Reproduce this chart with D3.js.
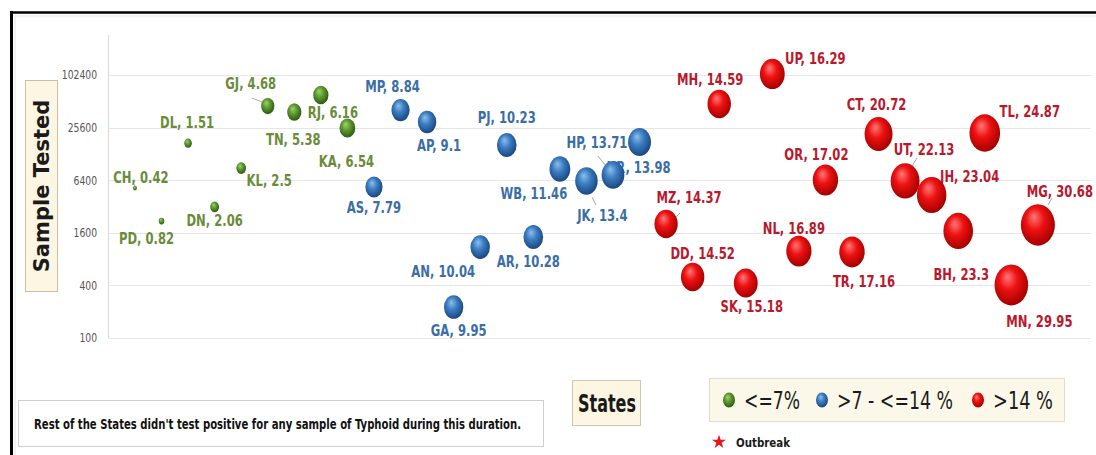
<!DOCTYPE html>
<html>
<head>
<meta charset="utf-8">
<script src="https://cdn.jsdelivr.net/npm/d3@7"></script>
<style>
  html, body { margin: 0; padding: 0; background: #fff; }
  svg { display: block; }
  .narrow { font-family: "Liberation Sans Narrow", "DejaVu Sans Condensed", "Arial Narrow", sans-serif; }
</style>
</head>
<body>
<svg id="chart" width="1096" height="455"></svg>
<script>
// States ordered by test positivity (%), x position = rank
const states = ["CH","PD","DL","DN","KL","GJ","TN","RJ","KA","AS","MP","AP","GA","AN","PJ","AR","WB","JK","HP","HR","MZ","DD","MH","SK","UP","NL","OR","TR","CT","UT","JH","BH","TL","MN","MG"];
const positivity = [0.42,0.82,1.51,2.06,2.5,4.68,5.38,6.16,6.54,7.79,8.84,9.1,9.95,10.04,10.23,10.28,11.46,13.4,13.71,13.98,14.37,14.52,14.59,15.18,16.29,16.89,17.02,17.16,20.72,22.13,23.04,23.3,24.87,29.95,30.68];
const samplesTested = [5200,2180,17000,3160,8800,45200,38600,60400,25300,5350,40700,29700,226,1100,16200,1430,8600,6270,7350,17500,2020,500,47700,426,105200,990,6430,967,21600,6270,4340,1680,22200,405,1970];

const yTicks = [100,400,1600,6400,25600,102400];
const legendLabels = ["<=7%", ">7 - <=14 %", ">14 %"];
const groupColors = [
  {hi:"#9fd36a", mid:"#5f9a32", lo:"#2c5610", text:"#6a8c3a"},
  {hi:"#8cc0ec", mid:"#3c7dc2", lo:"#17457c", text:"#3a6ea5"},
  {hi:"#ff7a7a", mid:"#ee1111", lo:"#a00000", text:"#b8192c"}
];
const groupOf = p => p <= 7 ? 0 : (p <= 14 ? 1 : 2);

// label placement around each bubble (text centre relative to bubble centre) and leader lines
const labelOffset = {
  CH:[6,-10], PD:[-15,18], DL:[-1,-20], DN:[0,14], KL:[28,13], GJ:[-17,-22], TN:[-1,28], RJ:[12,18],
  KA:[-1,34], AS:[0,21], MP:[-8,-23], AP:[12,24], GA:[5,24], AN:[-37,25], PJ:[0,-27], AR:[-5,25],
  WB:[-26,25], JK:[16,35], HP:[-16,-32], HR:[-1,26], MZ:[23,-26], DD:[10,-23], MH:[-9,-24], SK:[6,24],
  UP:[43,-15], NL:[-5,-22], OR:[-9,-25], TR:[12,30], CT:[-2,-29], UT:[19,-31], JH:[38,-18], BH:[3,44],
  TL:[45,-21], MN:[28,37], MG:[22,-33]
};
const leaders = {GJ:[[252,98],[262,102]], HP:[[598,156],[606,166]], JK:[[596,205],[592,197]], MZ:[[680,213],[675,218]], UT:[[917,158],[912,166]], MG:[[1052,198],[1048,205]], CH:[[134,184],[135,187]]};

const svg = d3.select("#chart");
const W = 1096, H = 455;
svg.append("rect").attr("width", W).attr("height", H).attr("fill", "#fff");

const x = d3.scaleLinear().domain([0, 37]).range([108.4, 1091]);
const y = d3.scaleLog().base(2).domain([100, 102400]).range([338, 75]);
const r = d3.scaleSqrt().domain([0, d3.max(positivity)]).range([0, 17]);
const stretch = 1.22;

// gradients for the shaded bubbles
const defs = svg.append("defs");
groupColors.forEach((c, i) => {
  const g = defs.append("radialGradient").attr("id", "g" + i)
    .attr("cx", "45%").attr("cy", "42%").attr("r", "60%").attr("fx", "38%").attr("fy", "30%");
  g.append("stop").attr("offset", "0%").attr("stop-color", c.hi);
  g.append("stop").attr("offset", "45%").attr("stop-color", c.mid);
  g.append("stop").attr("offset", "100%").attr("stop-color", c.lo);
});

// frame
svg.append("rect").attr("x", 15).attr("y", 16).attr("width", 1085).attr("height", 445)
  .attr("fill", "none").attr("stroke", "#e4e4e4").attr("stroke-width", 1);
svg.append("line").attr("x1", 10).attr("x2", W).attr("y1", 12.5).attr("y2", 12.5).attr("stroke", "#000").attr("stroke-width", 2.5);
svg.append("line").attr("x1", 11.5).attr("x2", 11.5).attr("y1", 11).attr("y2", H).attr("stroke", "#000").attr("stroke-width", 3);

// gridlines
svg.append("g").selectAll("line").data(yTicks).join("line")
  .attr("x1", x(0)).attr("x2", x(37))
  .attr("y1", d => Math.round(y(d)) + 0.5).attr("y2", d => Math.round(y(d)) + 0.5)
  .attr("stroke", "#e6e6e6").attr("stroke-width", 1.2);
svg.append("line").attr("x1", Math.round(x(0)) + 0.5).attr("x2", Math.round(x(0)) + 0.5)
  .attr("y1", 35).attr("y2", y(100)).attr("stroke", "#dcdcdc").attr("stroke-width", 1.2);

// y axis tick labels (horizontally condensed)
svg.append("g").selectAll("text").data(yTicks).join("text")
  .attr("class", "narrow")
  .attr("transform", d => `translate(97,${y(d)}) scale(0.82,1)`)
  .attr("text-anchor", "end").attr("dominant-baseline", "central")
  .attr("font-size", 12.5).attr("fill", "#555")
  .text(d3.format("d"));

// y axis title box
svg.append("rect").attr("x", 25.5).attr("y", 80.5).attr("width", 32).attr("height", 211)
  .attr("fill", "#fcf6e2").attr("stroke", "#c9c1a6");
svg.append("text").attr("transform", "translate(42,186) rotate(-90)")
  .attr("text-anchor", "middle").attr("dominant-baseline", "central")
  .attr("font-family", "DejaVu Sans, sans-serif").attr("font-weight", "bold").attr("font-size", 21)
  .attr("fill", "#1a1a1a").text("Sample Tested");

const data = states.map((s, i) => ({
  state: s, p: positivity[i], n: samplesTested[i], rank: i + 1, grp: groupOf(positivity[i])
}));

// leader lines
svg.append("g").selectAll("line").data(Object.entries(leaders)).join("line")
  .attr("x1", d => d[1][0][0]).attr("y1", d => d[1][0][1])
  .attr("x2", d => d[1][1][0]).attr("y2", d => d[1][1][1])
  .attr("stroke", "#a8a8a8").attr("stroke-width", 1);

// data labels (drawn beneath the bubbles)
svg.append("g").selectAll("text").data(data).join("text")
  .attr("class", "narrow")
  .attr("transform", d => `translate(${x(d.rank) + labelOffset[d.state][0]},${y(d.n) + labelOffset[d.state][1]}) scale(0.86,1)`)
  .attr("text-anchor", "middle").attr("dominant-baseline", "central")
  .attr("font-size", 15).attr("font-weight", "bold")
  .attr("fill", d => groupColors[d.grp].text)
  .text(d => `${d.state}, ${d.p}`);

// bubbles
svg.append("g").selectAll("ellipse").data(data).join("ellipse")
  .attr("cx", d => x(d.rank)).attr("cy", d => y(d.n))
  .attr("rx", d => r(d.p)).attr("ry", d => r(d.p) * stretch)
  .attr("fill", d => `url(#g${d.grp})`);

// note box
svg.append("rect").attr("x", 18.5).attr("y", 400.5).attr("width", 525).attr("height", 46)
  .attr("fill", "#fff").attr("stroke", "#cfcfcf");
svg.append("text").attr("class", "narrow").attr("x", 34).attr("y", 424)
  .attr("dominant-baseline", "central").attr("font-size", 14).attr("font-weight", "bold")
  .attr("fill", "#111").attr("textLength", 487).attr("lengthAdjust", "spacingAndGlyphs")
  .text("Rest of the States didn't test positive for any sample of Typhoid during this duration.");

// x axis title box
svg.append("rect").attr("x", 572.5).attr("y", 380.5).attr("width", 68).attr("height", 45)
  .attr("fill", "#fcf6e2").attr("stroke", "#cfc8b0");
svg.append("text").attr("class", "narrow").attr("x", 578).attr("y", 404)
  .attr("dominant-baseline", "central").attr("textLength", 58).attr("lengthAdjust", "spacingAndGlyphs")
  .attr("font-size", 24).attr("font-weight", "bold").attr("fill", "#1a1a1a").text("States");

// legend
svg.append("rect").attr("x", 709.5).attr("y", 378.5).attr("width", 355).attr("height", 43)
  .attr("fill", "#fbf8e9").attr("stroke", "#e2dcc4");
const legendX = [729, 822, 978];
const legendW = [56, 116, 60];
const lg = svg.append("g").selectAll("g").data(legendLabels).join("g");
lg.append("ellipse").attr("cx", (d, i) => legendX[i]).attr("cy", 400)
  .attr("rx", 6).attr("ry", 7.5).attr("fill", (d, i) => `url(#g${i})`);
lg.append("text").attr("class", "narrow")
  .attr("x", (d, i) => legendX[i] + 15).attr("y", 401)
  .attr("dominant-baseline", "central").attr("font-size", 24)
  .attr("fill", "#1a1a1a").attr("textLength", (d, i) => legendW[i]).attr("lengthAdjust", "spacingAndGlyphs")
  .text(d => d);

// outbreak key
const star = d3.symbol().type(d3.symbolStar).size(60);
svg.append("path").attr("d", star()).attr("transform", "translate(719,442)").attr("fill", "#e8141b");
svg.append("text").attr("class", "narrow").attr("x", 736).attr("y", 442)
  .attr("dominant-baseline", "central").attr("font-size", 13).attr("font-weight", "bold").attr("fill", "#1a1a1a")
  .attr("textLength", 54).attr("lengthAdjust", "spacingAndGlyphs").text("Outbreak");
</script>
</body>
</html>
